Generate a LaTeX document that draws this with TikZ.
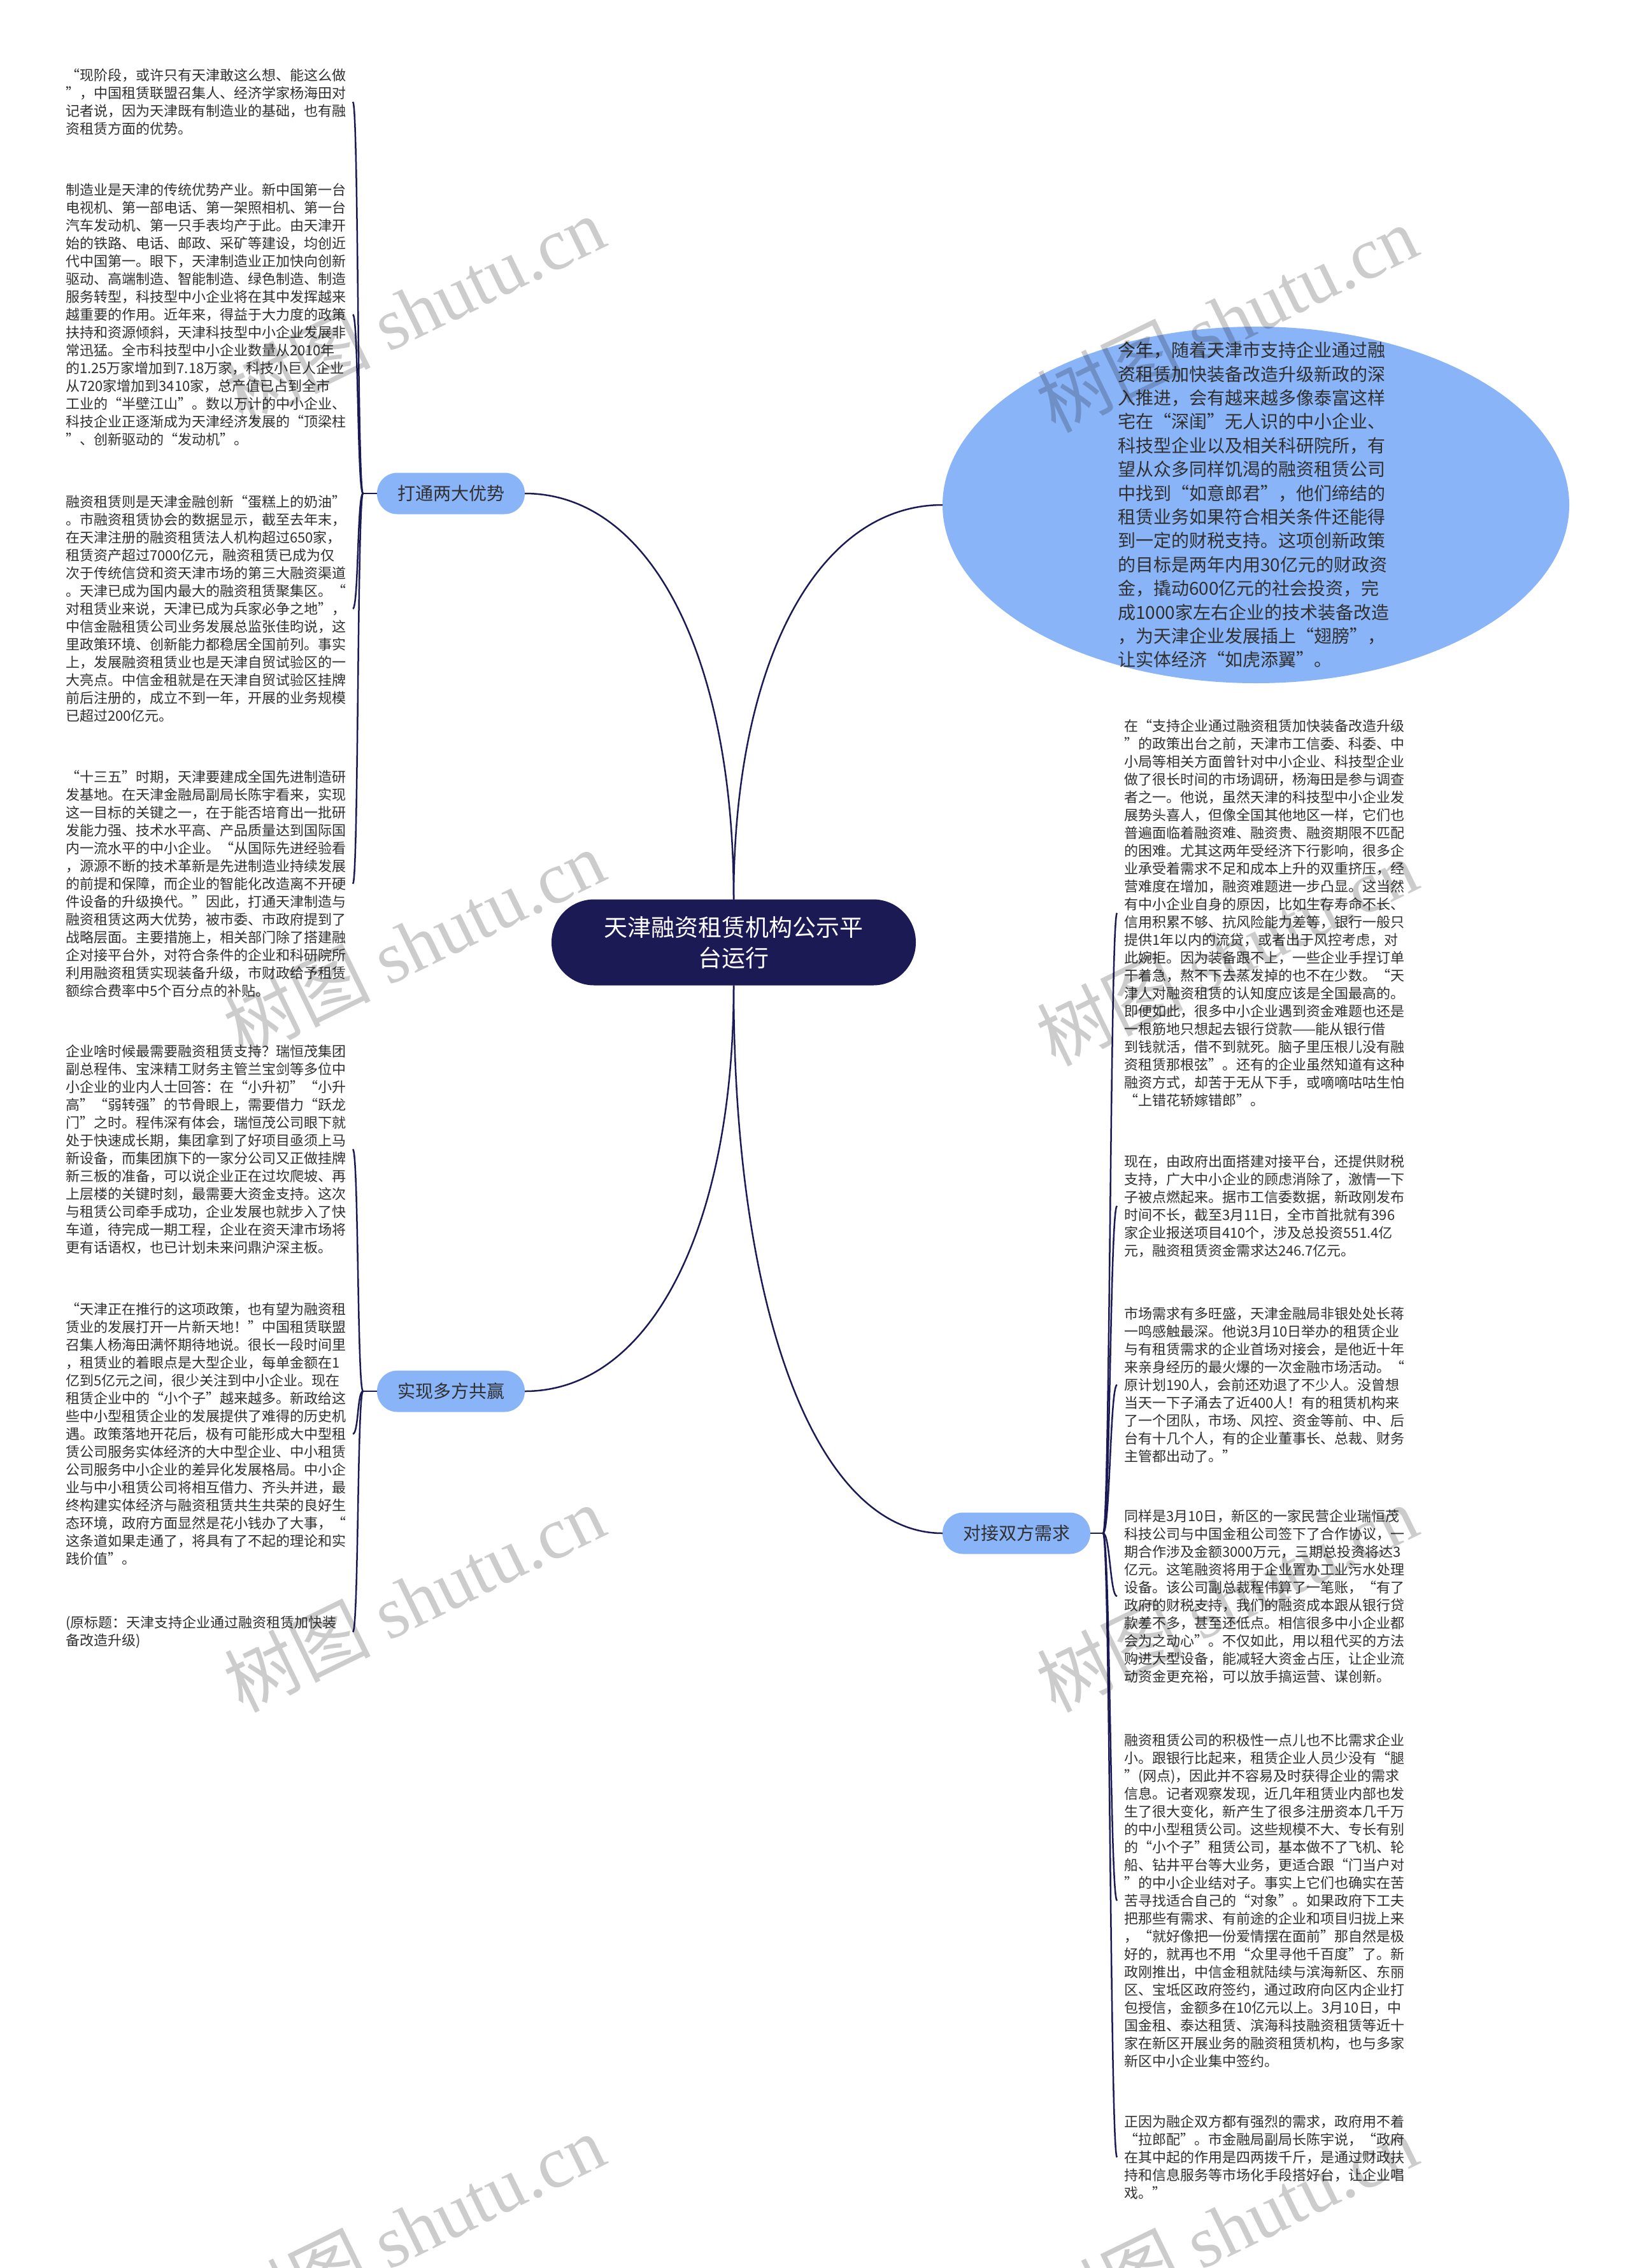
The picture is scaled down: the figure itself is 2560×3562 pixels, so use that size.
\documentclass[tikz,border=0pt]{standalone}
\usepackage{fontspec}
\setmainfont{Noto Sans CJK SC}
\newfontfamily\wmserif{Liberation Serif}
\usetikzlibrary{shapes.geometric}
\definecolor{navy}{HTML}{1B1A55}
\definecolor{lblue}{HTML}{8AB4F8}
\definecolor{txt}{HTML}{303030}
\begin{document}
\begin{tikzpicture}[x=1pt,y=-1pt,
  every node/.style={inner sep=0pt, outer sep=0pt},
  conn/.style={draw=navy, line width=2.5pt},
  blk/.style={text=txt, font=\fontsize{22}{28}\selectfont, text width=440pt, align=left, inner xsep=11pt, inner ysep=0pt},
  branch/.style={fill=lblue, rounded corners=32pt, minimum width=232pt, minimum height=65pt, text=txt, font=\fontsize{28}{32}\selectfont},
  wm/.style={text=black, text opacity=0.2, font=\fontsize{115}{115}\selectfont, rotate=26}]
\useasboundingbox (0,0) rectangle (2560,3562);
\fill[white] (0,0) rectangle (2560,3562);

% central node
\node[fill=navy, rounded corners=67pt, minimum width=572pt, minimum height=135pt, text=white, font=\fontsize{37}{48}\selectfont, align=center] (c) at (1152,1480) {天津融资租赁机构公示平\\台运行};

% branches
\node[branch] (l1) at (708,775) {打通两大优势};
\node[branch] (l2) at (708,2185) {实现多方共赢};
\node[branch] (r) at (1596,2408) {对接双方需求};

% ellipse
\node[ellipse, fill=lblue, minimum width=984pt, minimum height=560pt] (e) at (1972,793) {};
\node[text=txt, font=\fontsize{28}{37.4}\selectfont, text width=430pt, align=left] (et) at (1970,793) {今年，随着天津市支持企业通过融\\资租赁加快装备改造升级新政的深\\入推进，会有越来越多像泰富这样\\宅在“深闺”无人识的中小企业、\\科技型企业以及相关科研院所，有\\望从众多同样饥渴的融资租赁公司\\中找到“如意郎君”，他们缔结的\\租赁业务如果符合相关条件还能得\\到一定的财税支持。这项创新政策\\的目标是两年内用30亿元的财政资\\金，撬动600亿元的社会投资，完\\成1000家左右企业的技术装备改造\\，为天津企业发展插上“翅膀”，\\让实体经济“如虎添翼”。};

% left text blocks
\node[blk, anchor=east] (b1) at (554,160) {“现阶段，或许只有天津敢这么想、能这么做\\”，中国租赁联盟召集人、经济学家杨海田对\\记者说，因为天津既有制造业的基础，也有融\\资租赁方面的优势。};
\node[blk, anchor=east] (b2) at (554,494) {制造业是天津的传统优势产业。新中国第一台\\电视机、第一部电话、第一架照相机、第一台\\汽车发动机、第一只手表均产于此。由天津开\\始的铁路、电话、邮政、采矿等建设，均创近\\代中国第一。眼下，天津制造业正加快向创新\\驱动、高端制造、智能制造、绿色制造、制造\\服务转型，科技型中小企业将在其中发挥越来\\越重要的作用。近年来，得益于大力度的政策\\扶持和资源倾斜，天津科技型中小企业发展非\\常迅猛。全市科技型中小企业数量从2010年\\的1.25万家增加到7.18万家，科技小巨人企业\\从720家增加到3410家，总产值已占到全市\\工业的“半壁江山”。数以万计的中小企业、\\科技企业正逐渐成为天津经济发展的“顶梁柱\\”、创新驱动的“发动机”。};
\node[blk, anchor=east] (b3) at (554,956) {融资租赁则是天津金融创新“蛋糕上的奶油”\\。市融资租赁协会的数据显示，截至去年末，\\在天津注册的融资租赁法人机构超过650家，\\租赁资产超过7000亿元，融资租赁已成为仅\\次于传统信贷和资天津市场的第三大融资渠道\\。天津已成为国内最大的融资租赁聚集区。“\\对租赁业来说，天津已成为兵家必争之地”，\\中信金融租赁公司业务发展总监张佳昀说，这\\里政策环境、创新能力都稳居全国前列。事实\\上，发展融资租赁业也是天津自贸试验区的一\\大亮点。中信金租就是在天津自贸试验区挂牌\\前后注册的，成立不到一年，开展的业务规模\\已超过200亿元。};
\node[blk, anchor=east] (b4) at (554,1388) {“十三五”时期，天津要建成全国先进制造研\\发基地。在天津金融局副局长陈宇看来，实现\\这一目标的关键之一，在于能否培育出一批研\\发能力强、技术水平高、产品质量达到国际国\\内一流水平的中小企业。“从国际先进经验看\\，源源不断的技术革新是先进制造业持续发展\\的前提和保障，而企业的智能化改造离不开硬\\件设备的升级换代。”因此，打通天津制造与\\融资租赁这两大优势，被市委、市政府提到了\\战略层面。主要措施上，相关部门除了搭建融\\企对接平台外，对符合条件的企业和科研院所\\利用融资租赁实现装备升级，市财政给予租赁\\额综合费率中5个百分点的补贴。};
\node[blk, anchor=east] (b5) at (554,1805) {企业啥时候最需要融资租赁支持？瑞恒茂集团\\副总程伟、宝涞精工财务主管兰宝剑等多位中\\小企业的业内人士回答：在“小升初”“小升\\高”“弱转强”的节骨眼上，需要借力“跃龙\\门”之时。程伟深有体会，瑞恒茂公司眼下就\\处于快速成长期，集团拿到了好项目亟须上马\\新设备，而集团旗下的一家分公司又正做挂牌\\新三板的准备，可以说企业正在过坎爬坡、再\\上层楼的关键时刻，最需要大资金支持。这次\\与租赁公司牵手成功，企业发展也就步入了快\\车道，待完成一期工程，企业在资天津市场将\\更有话语权，也已计划未来问鼎沪深主板。};
\node[blk, anchor=east] (b6) at (554,2252) {“天津正在推行的这项政策，也有望为融资租\\赁业的发展打开一片新天地！”中国租赁联盟\\召集人杨海田满怀期待地说。很长一段时间里\\，租赁业的着眼点是大型企业，每单金额在1\\亿到5亿元之间，很少关注到中小企业。现在\\租赁企业中的“小个子”越来越多。新政给这\\些中小型租赁企业的发展提供了难得的历史机\\遇。政策落地开花后，极有可能形成大中型租\\赁公司服务实体经济的大中型企业、中小租赁\\公司服务中小企业的差异化发展格局。中小企\\业与中小租赁公司将相互借力、齐头并进，最\\终构建实体经济与融资租赁共生共荣的良好生\\态环境，政府方面显然是花小钱办了大事，“\\这条道如果走通了，将具有了不起的理论和实\\践价值”。};
\node[blk, anchor=east] (b7) at (554,2563) {(原标题：天津支持企业通过融资租赁加快装\\备改造升级)};

% right text blocks
\node[blk, anchor=west] (r1) at (1754,1434) {在“支持企业通过融资租赁加快装备改造升级\\”的政策出台之前，天津市工信委、科委、中\\小局等相关方面曾针对中小企业、科技型企业\\做了很长时间的市场调研，杨海田是参与调查\\者之一。他说，虽然天津的科技型中小企业发\\展势头喜人，但像全国其他地区一样，它们也\\普遍面临着融资难、融资贵、融资期限不匹配\\的困难。尤其这两年受经济下行影响，很多企\\业承受着需求不足和成本上升的双重挤压，经\\营难度在增加，融资难题进一步凸显。这当然\\有中小企业自身的原因，比如生存寿命不长、\\信用积累不够、抗风险能力差等，银行一般只\\提供1年以内的流贷，或者出于风控考虑，对\\此婉拒。因为装备跟不上，一些企业手捏订单\\干着急，熬不下去蒸发掉的也不在少数。“天\\津人对融资租赁的认知度应该是全国最高的。\\即便如此，很多中小企业遇到资金难题也还是\\一根筋地只想起去银行贷款——能从银行借\\到钱就活，借不到就死。脑子里压根儿没有融\\资租赁那根弦”。还有的企业虽然知道有这种\\融资方式，却苦于无从下手，或嘀嘀咕咕生怕\\“上错花轿嫁错郎”。};
\node[blk, anchor=west] (r2) at (1754,1894) {现在，由政府出面搭建对接平台，还提供财税\\支持，广大中小企业的顾虑消除了，激情一下\\子被点燃起来。据市工信委数据，新政刚发布\\时间不长，截至3月11日，全市首批就有396\\家企业报送项目410个，涉及总投资551.4亿\\元，融资租赁资金需求达246.7亿元。};
\node[blk, anchor=west] (r3) at (1754,2175) {市场需求有多旺盛，天津金融局非银处处长蒋\\一鸣感触最深。他说3月10日举办的租赁企业\\与有租赁需求的企业首场对接会，是他近十年\\来亲身经历的最火爆的一次金融市场活动。“\\原计划190人，会前还劝退了不少人。没曾想\\当天一下子涌去了近400人！有的租赁机构来\\了一个团队，市场、风控、资金等前、中、后\\台有十几个人，有的企业董事长、总裁、财务\\主管都出动了。”};
\node[blk, anchor=west] (r4) at (1754,2507) {同样是3月10日，新区的一家民营企业瑞恒茂\\科技公司与中国金租公司签下了合作协议，一\\期合作涉及金额3000万元，三期总投资将达3\\亿元。这笔融资将用于企业置办工业污水处理\\设备。该公司副总裁程伟算了一笔账，“有了\\政府的财税支持，我们的融资成本跟从银行贷\\款差不多，甚至还低点。相信很多中小企业都\\会为之动心”。不仅如此，用以租代买的方法\\购进大型设备，能减轻大资金占压，让企业流\\动资金更充裕，可以放手搞运营、谋创新。};
\node[blk, anchor=west] (r5) at (1754,2985) {融资租赁公司的积极性一点儿也不比需求企业\\小。跟银行比起来，租赁企业人员少没有“腿\\”(网点)，因此并不容易及时获得企业的需求\\信息。记者观察发现，近几年租赁业内部也发\\生了很大变化，新产生了很多注册资本几千万\\的中小型租赁公司。这些规模不大、专长有别\\的“小个子”租赁公司，基本做不了飞机、轮\\船、钻井平台等大业务，更适合跟“门当户对\\”的中小企业结对子。事实上它们也确实在苦\\苦寻找适合自己的“对象”。如果政府下工夫\\把那些有需求、有前途的企业和项目归拢上来\\，“就好像把一份爱情摆在面前”那自然是极\\好的，就再也不用“众里寻他千百度”了。新\\政刚推出，中信金租就陆续与滨海新区、东丽\\区、宝坻区政府签约，通过政府向区内企业打\\包授信，金额多在10亿元以上。3月10日，中\\国金租、泰达租赁、滨海科技融资租赁等近十\\家在新区开展业务的融资租赁机构，也与多家\\新区中小企业集中签约。};
\node[blk, anchor=west] (r6) at (1754,3388) {正因为融企双方都有强烈的需求，政府用不着\\“拉郎配”。市金融局副局长陈宇说，“政府\\在其中起的作用是四两拨千斤，是通过财政扶\\持和信息服务等市场化手段搭好台，让企业唱\\戏。”};

% main connectors
\draw[conn] (c.north) .. controls +(0,-383) and +(197,0) .. (l1.east);
\draw[conn] (c.north) .. controls +(0,-372) and +(-197,0) .. (e.west);
\draw[conn] (c.south) .. controls +(0,382) and +(197,0) .. (l2.east);
\draw[conn] (c.south) .. controls +(0,516) and +(-197,0) .. (r.west);

% brackets
\draw[conn] (l1.west) -- ++(-22,0) coordinate (l1p);
\foreach \b in {b1,b2,b3,b4} \draw[conn] (l1p) .. controls +(-9,0) and +(9,0) .. (\b.east);
\draw[conn] (l2.west) -- ++(-22,0) coordinate (l2p);
\foreach \b in {b5,b6,b7} \draw[conn] (l2p) .. controls +(-9,0) and +(9,0) .. (\b.east);
\draw[conn] (r.east) -- ++(20,0) coordinate (rp);
\foreach \b in {r1,r2,r3,r4,r5,r6} \draw[conn] (rp) .. controls +(11,0) and +(-11,0) .. (\b.west);

% watermarks
\node[wm] (wm1) at (650,486) {树图 {\wmserif shutu.cn}};
\node[wm] (wm2) at (1926,500) {树图 {\wmserif shutu.cn}};
\node[wm] (wm3) at (650,1481) {树图 {\wmserif shutu.cn}};
\node[wm] (wm4) at (1926,1495) {树图 {\wmserif shutu.cn}};
\node[wm] (wm5) at (650,2510) {树图 {\wmserif shutu.cn}};
\node[wm] (wm6) at (1926,2510) {树图 {\wmserif shutu.cn}};
\node[wm] (wm7) at (650,3498) {树图 {\wmserif shutu.cn}};
\node[wm] (wm8) at (1926,3498) {树图 {\wmserif shutu.cn}};
\end{tikzpicture}
\end{document}
